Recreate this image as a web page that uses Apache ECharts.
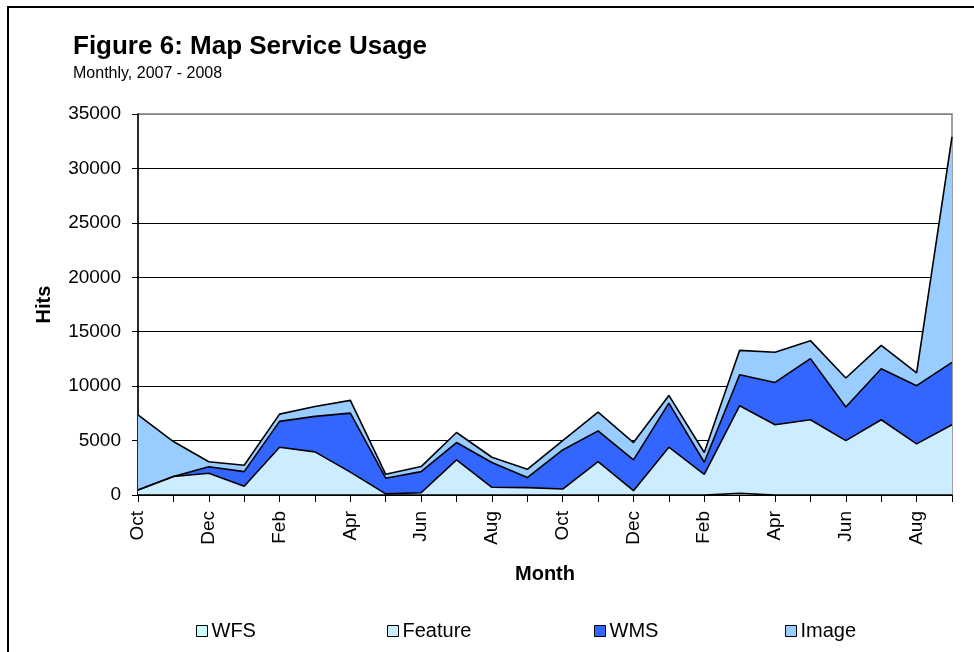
<!DOCTYPE html>
<html>
<head>
<meta charset="utf-8">
<title>Map Service Usage</title>
<script src="https://cdn.jsdelivr.net/npm/echarts@6/dist/echarts.min.js"></script>
<style>
  html, body { margin: 0; padding: 0; background: #fff; }
  #chart { width: 974px; height: 652px; }
</style>
</head>
<body>
<div id="chart"></div>
<script>
// months Oct 2006 .. Sep 2008
var months = ['Oct','Nov','Dec','Jan','Feb','Mar','Apr','May','Jun','Jul','Aug','Sep',
              'Oct','Nov','Dec','Jan','Feb','Mar','Apr','May','Jun','Jul','Aug','Sep'];
var yTicks = [0, 5000, 10000, 15000, 20000, 25000, 30000, 35000];

var wfs     = [0,0,0,0,0,0,0,0,0,0,0,0, 0,0,0,0,0,150,0,0,0,0,0,0];
var feature = [450,1700,2000,800,4390,3960,2100,100,210,3220,710,680,
               550,3070,400,4390,1900,8050,6450,6910,5000,6910,4700,6450];
var wms     = [0,0,600,1350,2370,3260,5420,1440,1940,1600,2270,920,
               3590,2820,2820,4050,1110,2850,3890,5620,3080,4690,5340,5740];
var image   = [6920,3210,460,580,670,910,1170,360,460,920,490,760,
               860,1720,1600,710,890,2240,2770,1650,2670,2150,1170,20710];

var names  = ['WFS', 'Feature', 'WMS', 'Image'];
var colors = ['#CCFFFF', '#CCECFF', '#3366FF', '#99CCFF'];
var values = [wfs, feature, wms, image];
var legendLeft = [196, 387, 594, 785];

var font = 'Liberation Sans, Arial, sans-serif';
var chart = echarts.init(document.getElementById('chart'));

var series = [];
var legends = [];
for (var i = 0; i < names.length; i++) {
  series.push({
    name: names[i],
    type: 'line',
    stack: 'hits',
    data: values[i],
    symbol: 'none',
    color: colors[i],
    lineStyle: { color: '#000', width: 1.6 },
    areaStyle: { color: colors[i], opacity: 1 },
    itemStyle: { color: colors[i], borderColor: '#000', borderWidth: 1 }
  });
  legends.push({
    data: [names[i]],
    left: legendLeft[i],
    top: 621,
    padding: 0,
    icon: 'rect',
    itemWidth: 11,
    itemHeight: 11,
    itemGap: 0,
    selectedMode: false,
    textStyle: { fontFamily: font, fontSize: 20, color: '#000', padding: [0, 0, 0, -1] },
    itemStyle: { borderColor: '#000', borderWidth: 1 }
  });
}

var option = {
  animation: false,
  textStyle: { fontFamily: font },
  title: [{
    text: 'Figure 6: Map Service Usage',
    left: 68, top: 29,
    textStyle: { fontFamily: font, fontSize: 26, fontWeight: 'bold', color: '#000' }
  }, {
    text: 'Monthly, 2007 - 2008',
    left: 68, top: 61,
    textStyle: { fontFamily: font, fontSize: 16, fontWeight: 'normal', color: '#000' }
  }],
  legend: legends,
  grid: {
    left: 138, right: 22, top: 114, bottom: 157,
    show: true, borderColor: '#808080', borderWidth: 1.5
  },
  xAxis: {
    type: 'category',
    data: months,
    boundaryGap: false,
    name: 'Month',
    nameLocation: 'middle',
    nameGap: 69,
    nameTextStyle: { fontFamily: font, fontSize: 20, fontWeight: 'bold', color: '#000' },
    axisLine: { lineStyle: { color: '#000', width: 1.5 } },
    axisTick: { show: true, interval: 0, length: 7, lineStyle: { color: '#000' } },
    axisLabel: { interval: 1, rotate: 90, margin: 16, fontSize: 19, color: '#000', fontFamily: font },
    splitLine: { show: false }
  },
  yAxis: {
    type: 'value',
    min: yTicks[0],
    max: yTicks[yTicks.length - 1],
    interval: 5000,
    name: 'Hits',
    nameLocation: 'middle',
    nameRotate: 90,
    nameGap: 84,
    nameTextStyle: { fontFamily: font, fontSize: 20, fontWeight: 'bold', color: '#000' },
    axisLine: { show: true, lineStyle: { color: '#000', width: 1.5 } },
    axisTick: { show: true, length: 6, lineStyle: { color: '#000' } },
    axisLabel: { margin: 17, fontSize: 19, color: '#000', fontFamily: font,
                 formatter: function (v) { return String(v); } },
    splitLine: { show: true, lineStyle: { color: ['#000','#000','#000','#000','#000','#000','#000','#808080'], width: 1 } }
  },
  graphic: [{
    type: 'rect',
    shape: { x: 8, y: 7, width: 1100, height: 1100 },
    style: { fill: 'none', stroke: '#000', lineWidth: 2 },
    silent: true
  }],
  series: series
};
chart.setOption(option);
</script>
</body>
</html>
